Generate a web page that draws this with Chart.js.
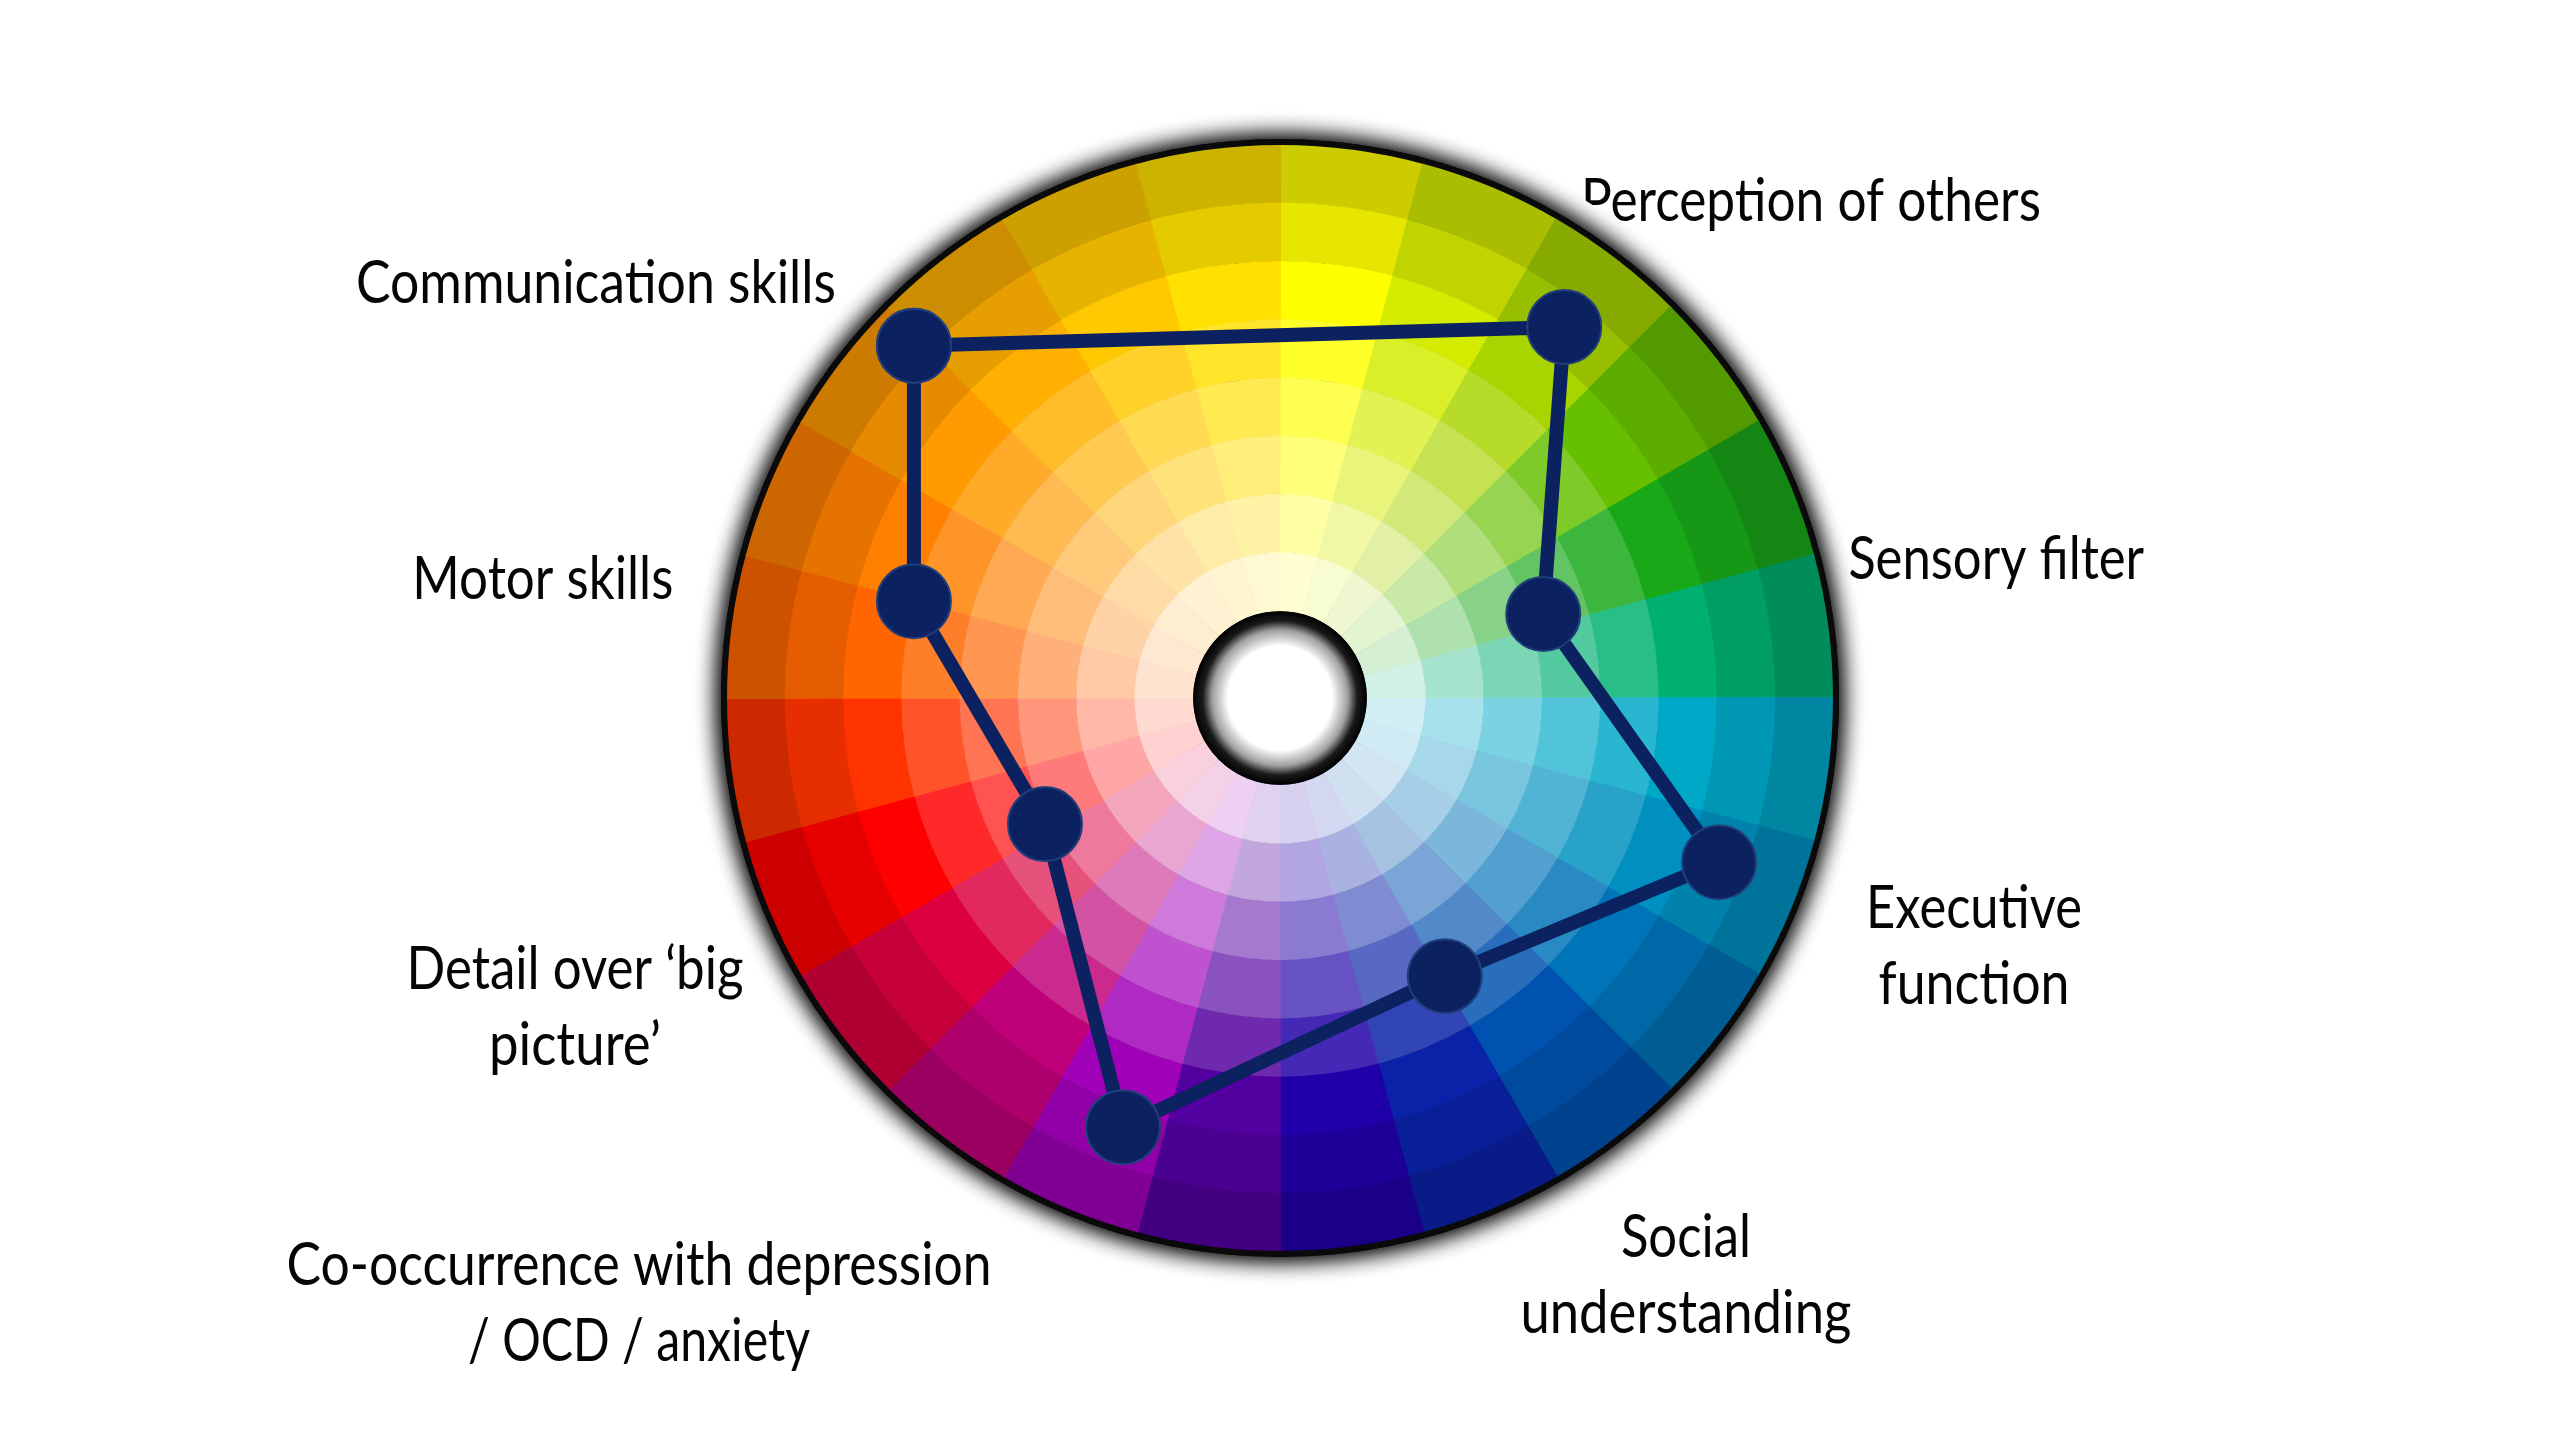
<!DOCTYPE html>
<html lang="en">
<head>
  <meta charset="utf-8">
  <title>Trait wheel</title>
  <script src="https://cdn.jsdelivr.net/npm/chart.js"></script>
  <style>
    html, body { margin: 0; padding: 0; background: #fff; }
    canvas { display: block; }
  </style>
</head>
<body>
<canvas id="trait-wheel" width="2560" height="1440"></canvas>
<script>
  // traits, in the order the outline joins them
  const traits = ['Communication skills', 'Perception of others', 'Sensory filter', 'Executive function',
    'Social understanding', 'Co-occurrence with depression / OCD / anxiety', 'Detail over ‘big picture’', 'Motor skills'];
  // where each trait sits on the wheel (centre = 0,0, rim = 10)
  const xValues = [-6.62, 5.14, 4.76, 7.94, 2.98, -2.84, -4.25, -6.62];
  const yValues = [6.37, 6.71, 1.52, -2.97, -5.03, -7.76, -2.28, 1.75];
  // label text, split in lines as on the slide
  const labelLines = [
    ['Communication skills'],
    ['Perception of others'],
    ['Sensory filter'],
    ['Executive', 'function'],
    ['Social', 'understanding'],
    ['Co-occurrence with depression', '/ OCD / anxiety'],
    ['Detail over ‘big', 'picture’'],
    ['Motor skills']
  ];

  // layout of the labels: anchor in wheel units, first baseline; width of each line in px
  const labelLayout = [
    { x: -12.37, y: 7.14, widths: [480] },
    { x: 9.60, y: 8.63, widths: [460] },
    { x: 12.95, y: 2.15, widths: [296] },
    { x: 12.55, y: -4.16, widths: [216, 191] },
    { x: 7.34, y: -10.11, widths: [130, 331] },
    { x: -11.59, y: -10.61, widths: [705, 342] },
    { x: -12.75, y: -5.26, widths: [337, 172] },
    { x: -13.33, y: 1.79, widths: [261] }
  ];

  const WHEEL_RADIUS = 10;
  const HOLE_RADIUS = 1.57;
  const RINGS = 8;
  const UNIT = 55.3; // px per wheel unit
  const CENTER_X = 1280, CENTER_Y = 698;

  // pure colour of each 15° sector, clockwise from the top
  const HUES = ['#ffff00', '#d4ec00', '#a8d400', '#66c000', '#18a818', '#00b070',
    '#00a8c8', '#0090c0', '#0074b8', '#0052b0', '#0a22a8', '#2000a8',
    '#5200a0', '#a000b8', '#c00078', '#dc0040', '#ff0000', '#ff3300',
    '#ff6600', '#ff8000', '#ff9a00', '#ffb000', '#ffc800', '#ffe000'];
  // outer two rings darker, then pure, then tints to white
  const RING_SHADE = [0.8, 0.9, 1, 1, 1, 1, 1, 1];
  const RING_TINT = [0, 0, 0, 0.16, 0.32, 0.48, 0.65, 0.82];

  function ringColour(hex, ring) {
    const n = parseInt(hex.slice(1), 16);
    const rgb = [(n >> 16) & 255, (n >> 8) & 255, n & 255].map(c => {
      c = c * RING_SHADE[ring];
      return Math.round(c + (255 - c) * RING_TINT[ring]);
    });
    return 'rgb(' + rgb.join(',') + ')';
  }

  const traitLabels = {
    id: 'traitLabels',
    beforeDraw(chart) {
      const { ctx, scales: { x, y } } = chart;
      ctx.save();
      ctx.fillStyle = '#050505';
      ctx.textAlign = 'center';
      ctx.textBaseline = 'alphabetic';
      ctx.font = '60px Lato, "Open Sans", sans-serif';
      labelLines.forEach((lines, i) => {
        const lay = labelLayout[i];
        const px = x.getPixelForValue(lay.x);
        const py = y.getPixelForValue(lay.y);
        lines.forEach((line, j) => {
          const w = ctx.measureText(line).width;
          ctx.save();
          ctx.translate(px, py + j * 76);
          ctx.scale(lay.widths[j] / w, 1);
          ctx.fillText(line, 0, 0);
          ctx.restore();
        });
      });
      ctx.restore();
    }
  };

  const colourWheel = {
    id: 'colourWheel',
    beforeDatasetsDraw(chart) {
      const { ctx, scales: { x, y } } = chart;
      const cx = x.getPixelForValue(0), cy = y.getPixelForValue(0);
      const unit = x.getPixelForValue(1) - cx;
      const R = WHEEL_RADIUS * unit, hole = HOLE_RADIUS * unit;
      const full = Math.PI * 2;
      ctx.save();
      // white backing round the rim (it hides the foot of the "P")
      ctx.fillStyle = '#fff';
      ctx.beginPath(); ctx.arc(cx, cy, R + 31, 0, full); ctx.fill();
      // dark rim with soft shadow, drawn twice to get it dense
      ctx.shadowColor = 'rgba(0,0,0,1)';
      ctx.shadowBlur = 24;
      ctx.fillStyle = '#0a0a0a';
      for (let k = 0; k < 2; k++) {
        ctx.beginPath(); ctx.arc(cx, cy, R + 6, 0, full); ctx.fill();
      }
      ctx.shadowBlur = 0;
      ctx.shadowColor = 'transparent';

      const ringW = (R - hole) / RINGS;
      const step = full / HUES.length;
      HUES.forEach((hex, h) => {
        const a0 = -Math.PI / 2 + h * step - 0.002, a1 = a0 + step + 0.004;
        for (let r = 0; r < RINGS; r++) {
          const outer = R - r * ringW + (r ? 0.5 : 0), inner = R - (r + 1) * ringW;
          ctx.fillStyle = ringColour(hex, r);
          ctx.beginPath();
          ctx.arc(cx, cy, outer, a0, a1);
          ctx.arc(cx, cy, inner, a1, a0, true);
          ctx.closePath();
          ctx.fill();
        }
      });

      // centre hole
      const g = ctx.createRadialGradient(cx, cy, 0, cx, cy, hole);
      g.addColorStop(0, '#ffffff');
      g.addColorStop(0.6, '#ffffff');
      g.addColorStop(0.78, '#a0a0a0');
      g.addColorStop(0.89, '#1a1a1a');
      g.addColorStop(1, '#000000');
      ctx.fillStyle = g;
      ctx.beginPath(); ctx.arc(cx, cy, hole, 0, full); ctx.fill();
      ctx.restore();
    }
  };

  const points = xValues.map((v, i) => ({ x: v, y: yValues[i] }));
  points.push(points[0]); // close the outline

  new Chart(document.getElementById('trait-wheel'), {
    type: 'scatter',
    data: {
      labels: traits,
      datasets: [{
        label: 'Profile',
        data: points,
        showLine: true,
        borderColor: '#0c215f',
        borderWidth: 14,
        tension: 0,
        pointRadius: 37,
        pointHoverRadius: 37,
        pointBackgroundColor: '#0c215f',
        pointBorderColor: '#203f7c',
        pointBorderWidth: 2,
        clip: false
      }]
    },
    options: {
      responsive: false,
      devicePixelRatio: 1,
      animation: false,
      layout: { padding: 0, autoPadding: false },
      plugins: {
        legend: { display: false },
        tooltip: { enabled: false }
      },
      scales: {
        x: { type: 'linear', display: false, min: -CENTER_X / UNIT, max: (2560 - CENTER_X) / UNIT },
        y: { type: 'linear', display: false, min: -(1440 - CENTER_Y) / UNIT, max: CENTER_Y / UNIT }
      }
    },
    plugins: [traitLabels, colourWheel]
  });
</script>
</body>
</html>
